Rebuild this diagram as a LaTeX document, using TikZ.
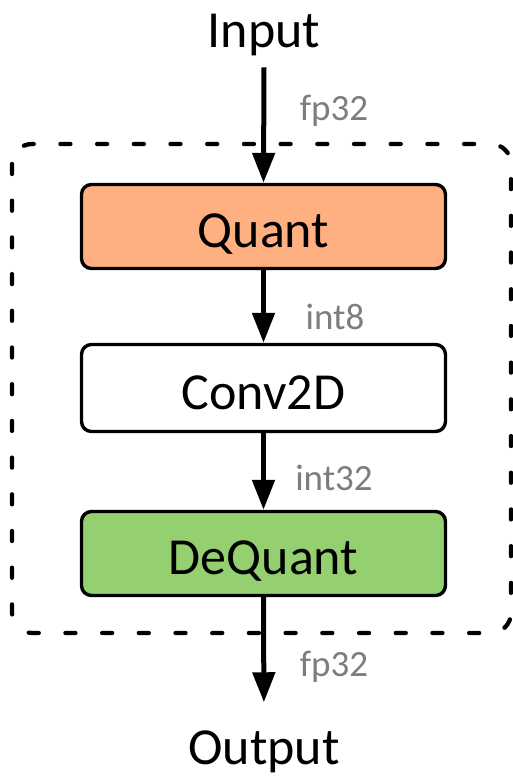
\documentclass[tikz,border=0pt]{standalone}
\usepackage{fontspec}
\setmainfont{Carlito}
\usetikzlibrary{arrows.meta}
\definecolor{quantfill}{RGB}{255,176,128}
\definecolor{dequantfill}{RGB}{148,208,112}
\definecolor{labelgray}{RGB}{125,125,125}
\tikzset{
  blockbox/.style={draw=black, line width=3.4pt, rounded corners=10pt,
    minimum width=364pt, minimum height=84pt, inner sep=0pt,
    text height=42pt, text depth=0pt, font=\fontsize{52}{60}\selectfont},
  bigtext/.style={inner sep=0pt, outer sep=0pt, font=\fontsize{52}{60}\selectfont},
  dtype/.style={inner sep=0pt, anchor=base, text=labelgray, font=\fontsize{37}{44}\selectfont},
  flow/.style={line width=5pt, -{Triangle[width=22pt,length=30pt]}},
  groupbox/.style={draw=black, line width=4.3pt, dash pattern=on 10pt off 26.7pt, line cap=round, rounded corners=20pt}
}
\begin{document}
\begin{tikzpicture}[x=1pt,y=-1pt]
\useasboundingbox (0,0) rectangle (513,776);
% group
\draw[groupbox] (12,144) rectangle (511,633);
% nodes
\node[bigtext, anchor=base] (inp) at (264,48) {Input};
\node[blockbox, fill=quantfill] (quant) at (263.5,226.5) {Quant};
\node[blockbox, fill=white, minimum height=87pt] (conv) at (263.5,388) {Conv2D};
\node[blockbox, fill=dequantfill] (dequant) at (263.5,553.5) {DeQuant};
\node[bigtext, anchor=base] (outp) at (264,764) {Output};
% labels
\node[dtype] (l1) at (334,120) {fp32};
\node[dtype] (l2) at (335,329) {int8};
\node[dtype] (l3) at (334,490) {int32};
\node[dtype] (l4) at (334,676) {fp32};
% connectors
\draw[flow] ([yshift=-11pt]inp.south) -- (quant.north);
\draw[flow] (quant.south) -- (conv.north);
\draw[flow] (conv.south) -- (dequant.north);
\draw[flow, shorten >=28pt] (dequant.south) -- (outp.north);
\end{tikzpicture}
\end{document}
